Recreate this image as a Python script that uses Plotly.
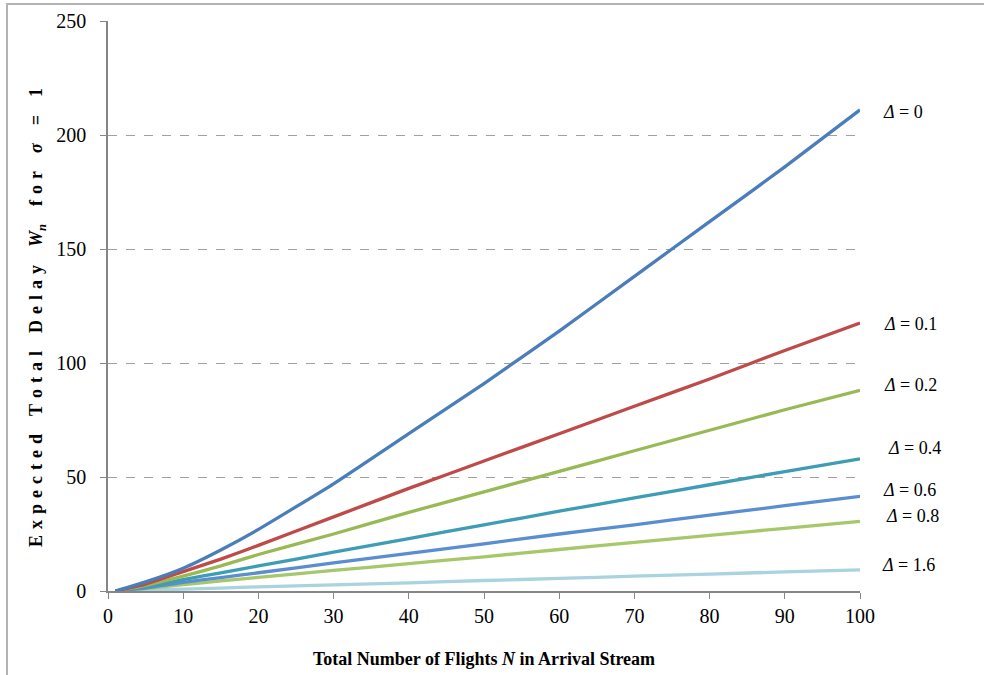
import plotly.graph_objects as go

N = [1, 5, 10, 15, 20, 30, 40, 50, 60, 70, 80, 90, 100]
W_d0 = [0, 4, 10, 18, 27, 47, 69, 91, 114, 138, 162, 186, 211]
W_d01 = [0, 3, 8.5, 14, 20, 32.5, 45, 57, 69, 81, 93, 105.5, 117.5]
W_d02 = [0, 2.5, 6.5, 11, 16, 25, 34.5, 43.5, 52.5, 61.5, 70.5, 79.5, 88]
W_d04 = [0, 1.8, 5, 8, 11, 17, 23, 29, 35, 40.8, 46.6, 52.4, 58]
W_d06 = [0, 1.3, 3.8, 5.9, 8, 12.3, 16.5, 20.7, 25, 29, 33.3, 37.4, 41.5]
W_d08 = [0, 1, 2.8, 4.4, 6, 9, 12, 15, 18.2, 21.3, 24.4, 27.5, 30.5]
W_d16 = [0, 0.3, 0.8, 1.3, 1.8, 2.7, 3.6, 4.6, 5.5, 6.5, 7.4, 8.4, 9.3]

deltas = ["0", "0.1", "0.2", "0.4", "0.6", "0.8", "1.6"]
values = [W_d0, W_d01, W_d02, W_d04, W_d06, W_d08, W_d16]
colors = ["#4A7EBB", "#BE4B48", "#98B954", "#3E9DB5", "#5A8ED0", "#A6C86A", "#A9D3DF"]

# label placement (page pixels)
label_px = [881, 882, 882, 886, 881, 884, 880]
label_py = [112, 324, 385, 448, 490, 516, 565]

PL, PR, PT, PB = 108, 860, 21, 591
PW, PH = PR - PL, PB - PT

fig = go.Figure()
for d, ys, col in reversed(list(zip(deltas, values, colors))):
    fig.add_trace(go.Scatter(x=N, y=ys, mode="lines", name="Δ = " + d,
                             line=dict(color=col, width=3.3, shape="spline", smoothing=0.4),
                             showlegend=False))

for d, px, py in zip(deltas, label_px, label_py):
    fig.add_annotation(x=(px - PL) / PW, y=(PB - py) / PH, xref="paper", yref="paper",
                       xanchor="left", yanchor="middle",
                       text="<i>Δ</i> = " + d, showarrow=False,
                       font=dict(family="Liberation Serif", size=18, color="#000"))

sp = "\u2004"
def spaced(word):
    return sp.join(list(word))
ytitle = (spaced("Expected") + sp * 3 + spaced("Total") + sp * 3 + spaced("Delay") + sp * 3
          + "<i>W</i><sub><i>n</i></sub>" + sp * 3 + spaced("for") + sp * 3 + "<i>σ</i>"
          + sp * 3 + "=" + sp * 3 + "1")
fig.add_annotation(x=(37 - PL) / PW, y=(PB - 318) / PH, xref="paper", yref="paper",
                   textangle=-90, xanchor="center", yanchor="middle",
                   text="<b>" + ytitle + "</b>", showarrow=False,
                   font=dict(family="Liberation Serif", size=18, color="#000"))

fig.add_shape(type="rect", xref="paper", yref="paper",
              x0=(7 - PL) / PW, x1=1.3, y0=-0.3, y1=(PB - 4) / PH,
              line=dict(color="#B3B3B3", width=2), fillcolor="rgba(0,0,0,0)", layer="below")

fig.update_layout(
    width=984, height=675,
    margin=dict(l=PL, r=984 - PR, t=PT, b=675 - PB, autoexpand=False),
    paper_bgcolor="white", plot_bgcolor="white",
    font=dict(family="Liberation Serif", size=20, color="#000"),
    xaxis=dict(range=[0, 100], tickvals=list(range(0, 101, 10)), showgrid=False,
               showline=True, linecolor="#868686", linewidth=1.5, ticks="outside",
               ticklen=6, tickcolor="#868686", zeroline=False, automargin=False,
               title=dict(text="<b>Total Number of Flights <i>N</i> in Arrival Stream</b>",
                          font=dict(size=18), standoff=27)),
    yaxis=dict(range=[0, 250], tickvals=[0, 50, 100, 150, 200, 250], showgrid=True,
               gridcolor="#A0A0A0", griddash="dash", gridwidth=1,
               showline=True, linecolor="#868686", linewidth=1.5, ticks="outside",
               ticklen=6, tickcolor="#868686", zeroline=False, ticklabelstandoff=10,
               automargin=False),
)

fig.write_html("out.html", config={"displayModeBar": False},
               post_script="document.body.style.margin='0';document.body.style.overflow='hidden';")
